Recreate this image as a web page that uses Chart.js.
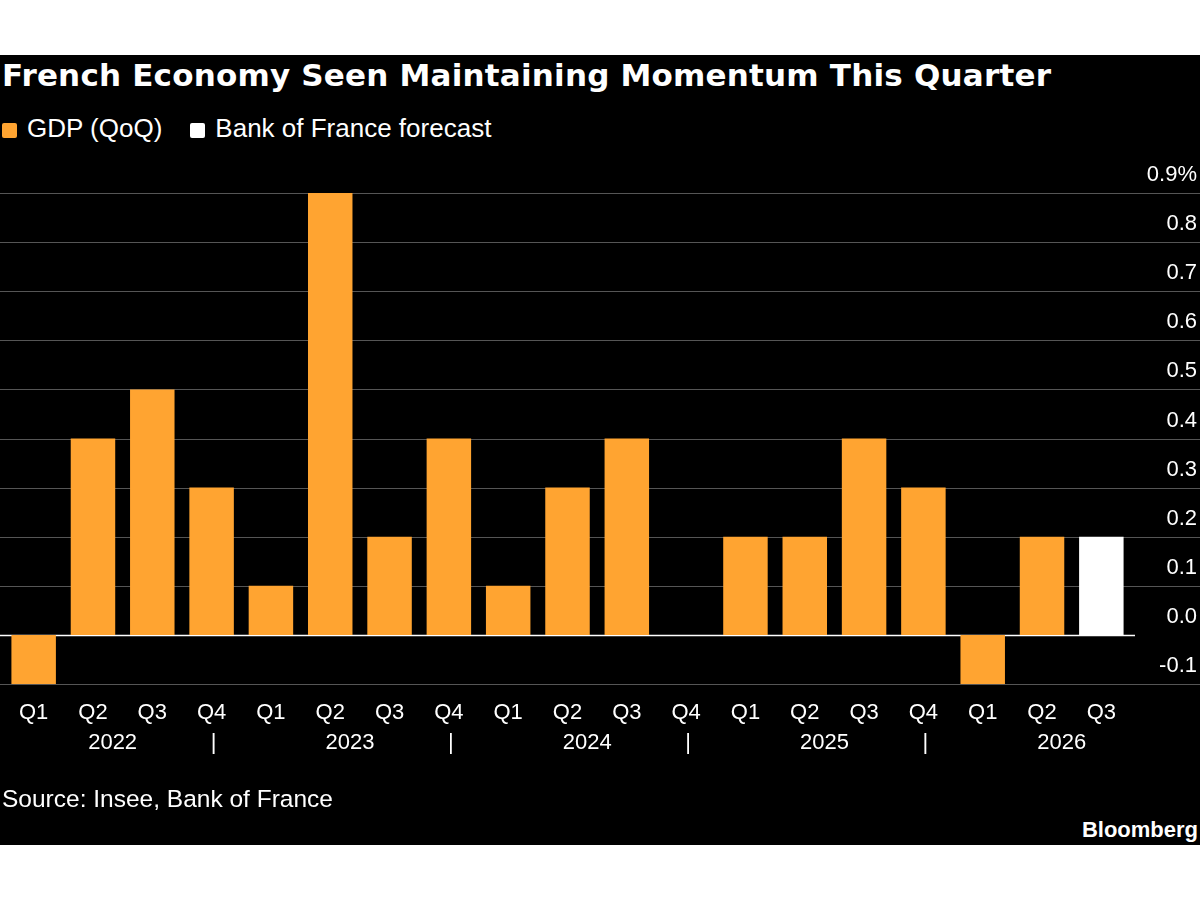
<!DOCTYPE html>
<html><head><meta charset="utf-8">
<script src="https://cdn.jsdelivr.net/npm/chart.js@4"></script>
<style>
body{margin:0;background:#fff;width:1200px;height:900px;position:relative;overflow:hidden;font-family:"Liberation Sans",Arial,sans-serif}
#box{position:absolute;left:0;top:55px;width:1200px;height:790px;background:#000}
#title{position:absolute;left:2px;top:57px;color:#fff;font:bold 31px "DejaVu Sans",sans-serif;letter-spacing:0.2px}
#legend{position:absolute;left:2px;top:113px;color:#fff;font-size:26px;display:flex;gap:10px;align-items:center}
.sw{display:inline-block;width:15px;height:15px;margin-right:10px;vertical-align:middle;border-radius:2px}
#src{position:absolute;left:2px;top:785px;color:#fff;font-size:24.5px}
#bb{position:absolute;right:2px;top:817px;color:#fff;font-weight:bold;font-size:22px}
#wrap{position:absolute;left:0;top:150px;width:1200px;height:640px}
</style></head><body>
<div id="box"></div>
<div id="title">French Economy Seen Maintaining Momentum This Quarter</div>
<div id="legend"><span><span class="sw" style="background:#ffa431"></span>GDP (QoQ)</span><span style="margin-left:18px"><span class="sw" style="background:#fff"></span>Bank of France forecast</span></div>
<div id="wrap"><canvas id="c" width="1200" height="640"></canvas></div>
<div id="src">Source: Insee, Bank of France</div>
<div id="bb">Bloomberg</div>
<script>
const quarters=["Q1","Q2","Q3","Q4","Q1","Q2","Q3","Q4","Q1","Q2","Q3","Q4","Q1","Q2","Q3","Q4","Q1","Q2","Q3"];
const years=["2022","2023","2024","2025","2026"];
const gdp=[-0.1,0.4,0.5,0.3,0.1,0.9,0.2,0.4,0.1,0.3,0.4,0.0,0.2,0.2,0.4,0.3,-0.1,0.2,null];
const forecast=[null,null,null,null,null,null,null,null,null,null,null,null,null,null,null,null,null,null,0.2];
const yTicks=[-0.1,0,0.1,0.2,0.3,0.4,0.5,0.6,0.7,0.8,0.9];
const deco={id:'deco',beforeDatasetsDraw(ch){
 const c=ch.ctx,y=ch.scales.y,x=ch.scales.x;c.save();
 yTicks.forEach(v=>{const p=Math.round(y.getPixelForValue(v))+0.5;
  c.strokeStyle=v===0?'#ffffff':'#555';c.lineWidth=v===0?1.5:1;
  c.beginPath();c.moveTo(0,p);c.lineTo(v===0?1135:1200,p);c.stroke();
  c.fillStyle='#fff';c.font='22px "Liberation Sans",Arial';c.textAlign='right';c.textBaseline='bottom';
  const t=v===0.9?'0.9%':v.toFixed(1);c.fillText(t,1197,p-8);});
 c.restore();},
 afterDraw(ch){const c=ch.ctx,x=ch.scales.x;c.save();c.fillStyle='#fff';c.font='22px "Liberation Sans",Arial';c.textAlign='center';c.textBaseline='middle';
 quarters.forEach((q,i)=>c.fillText(q,x.getPixelForValue(i),563));
 years.forEach((yr,k)=>{const a=x.getPixelForValue(k*4+1),b=x.getPixelForValue(k*4+2);c.fillText(yr,(a+b)/2-10,593);
  if(k<4)c.fillText('|',x.getPixelForValue(k*4+3)+2,593);});
 c.restore();}};
new Chart(document.getElementById('c'),{type:'bar',
 data:{labels:quarters,datasets:[
  {data:gdp,backgroundColor:'#ffa431',categoryPercentage:0.75,barPercentage:1,grouped:false},
  {data:forecast,backgroundColor:'#ffffff',categoryPercentage:0.75,barPercentage:1,grouped:false}]},
 options:{responsive:false,animation:false,events:[],
  layout:{padding:{top:43,bottom:106,left:4,right:69}},
  plugins:{legend:{display:false},tooltip:{enabled:false}},
  scales:{x:{display:false},y:{display:false,min:-0.1,max:0.9}}},
 plugins:[deco]});
</script></body></html>
